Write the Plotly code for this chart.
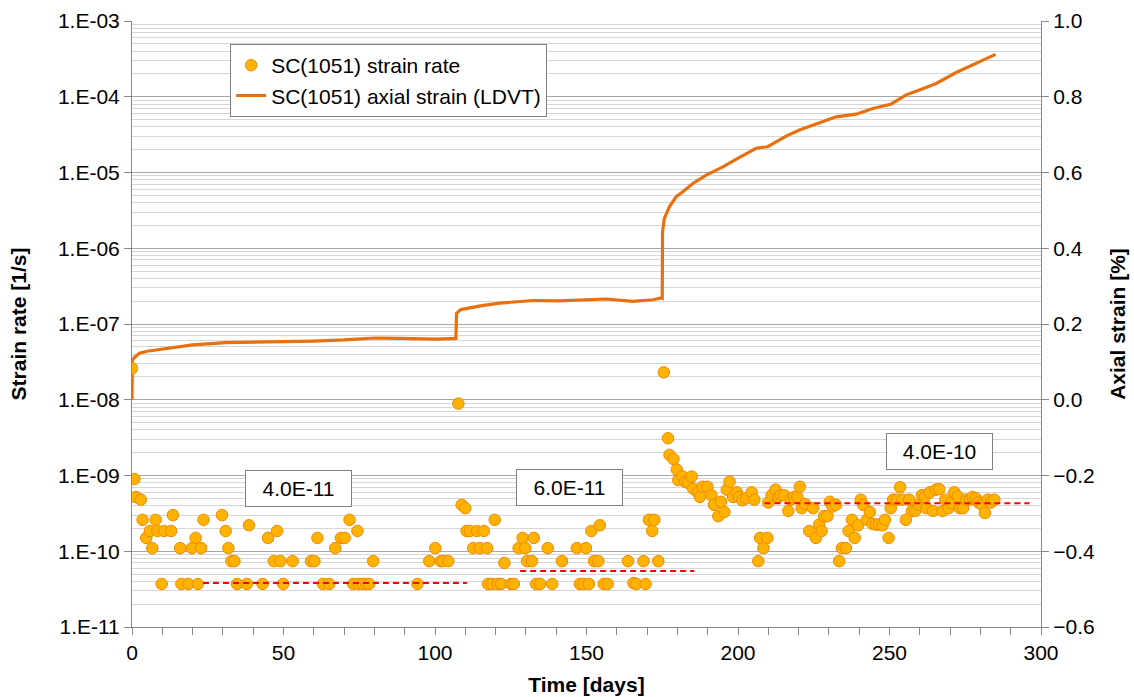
import math
import plotly.graph_objects as go

# ---------------- data ----------------
rate_days = [
    0.0, 0.8, 1.3, 2.9, 3.5, 4.7, 5.9, 6.7, 7.8, 8.4, 9.8, 10.6, 12.9, 13.5, 15.9, 16.3,
    18.6, 19.8, 21.0, 21.7, 22.8, 23.6, 29.7, 30.9, 31.8, 32.8, 33.8, 34.7, 37.9, 38.6,
    43.1, 44.9, 46.8, 47.9, 49.0, 49.9, 53.0, 59.1, 60.2, 61.2, 63.0, 65.1, 67.1, 69.0,
    70.2, 71.8, 73.0, 74.4, 74.8, 76.1, 77.3, 78.3, 79.6,
    94.2, 98.1, 100.1, 101.9, 102.7, 104.4, 107.7, 108.8, 110.0, 110.4, 111.5, 112.6,
    113.9, 114.8, 116.1, 117.2, 117.5, 118.8, 119.7, 120.7, 121.8, 122.9, 125.1, 126.0,
    127.6, 128.9, 129.8, 130.4, 132.0, 132.6, 133.4, 134.7, 137.2, 138.7, 141.9, 146.8,
    147.8, 148.9, 149.8, 150.8, 151.6, 152.5, 153.9, 154.4, 155.7, 157.0, 163.7, 165.5,
    166.5, 168.8, 169.5, 170.6, 171.7, 172.4, 173.7, 175.5, 176.9, 177.4, 178.7, 179.8,
    180.3, 181.7, 182.5, 183.4, 184.7, 185.2, 186.7, 187.4, 188.3, 189.9, 191.2, 192.1,
    193.5, 194.4, 195.5, 196.3, 197.2, 198.4, 199.6, 200.3, 201.4, 202.8, 204.5, 205.4,
    206.7, 207.3, 208.4, 209.7, 210.0, 211.1, 212.4, 213.3, 214.1, 215.2, 216.6, 217.4,
    218.5, 219.6, 220.4, 221.0, 222.1, 223.5, 224.8, 225.7, 226.8, 227.6, 228.4, 229.5,
    230.3, 231.2, 232.3, 233.4, 234.3, 235.6, 236.5, 237.6, 238.5, 239.6, 240.5, 241.3,
    242.5, 243.5, 244.4, 245.5, 246.6, 247.7, 248.5, 249.7, 250.4, 251.2, 252.4, 253.5,
    254.3, 255.4, 256.5, 257.4, 258.5, 259.6, 260.7, 261.7, 262.2, 263.3, 264.4, 265.3,
    266.4, 267.5, 268.4, 269.5, 270.3, 271.4, 272.5, 273.2, 274.3, 275.4, 276.5, 277.4,
    278.5, 279.4, 280.5, 281.5, 282.4, 283.5, 284.6,
]
rate_values = [
    2.6e-8, 9.0e-10, 5.2e-10, 4.8e-10, 2.6e-10, 1.5e-10, 1.85e-10, 1.1e-10, 2.6e-10, 1.85e-10,
    3.7e-11, 1.85e-10, 1.85e-10, 3.0e-10, 1.1e-10, 3.7e-11, 3.7e-11, 1.1e-10, 1.5e-10, 3.7e-11,
    1.1e-10, 2.6e-10, 3.0e-10, 1.85e-10, 1.1e-10, 7.4e-11, 7.4e-11, 3.7e-11, 3.7e-11, 2.2e-10,
    3.7e-11, 1.5e-10, 7.4e-11, 1.85e-10, 7.4e-11, 3.7e-11, 7.4e-11, 7.4e-11, 7.4e-11, 1.5e-10,
    3.7e-11, 3.7e-11, 1.1e-10, 1.5e-10, 1.5e-10, 2.6e-10, 3.7e-11, 1.85e-10, 3.7e-11, 3.7e-11,
    3.7e-11, 3.7e-11, 7.4e-11,
    3.7e-11, 7.4e-11, 1.1e-10, 7.4e-11, 7.4e-11, 7.4e-11, 8.9e-9, 4.1e-10, 3.7e-10, 1.85e-10,
    1.85e-10, 1.1e-10, 1.85e-10, 1.1e-10, 1.85e-10, 1.1e-10, 3.7e-11, 3.7e-11, 2.6e-10, 3.7e-11,
    3.7e-11, 7.0e-11, 3.7e-11, 3.7e-11, 1.1e-10, 1.5e-10, 1.1e-10, 7.4e-11, 7.4e-11, 1.5e-10,
    3.7e-11, 3.7e-11, 1.1e-10, 3.7e-11, 7.4e-11, 1.1e-10, 3.7e-11, 3.7e-11, 1.1e-10, 3.7e-11,
    1.85e-10, 7.4e-11, 7.4e-11, 2.2e-10, 3.7e-11, 3.7e-11, 7.4e-11, 3.8e-11, 3.7e-11, 7.4e-11,
    3.7e-11, 2.6e-10, 1.85e-10, 2.6e-10, 7.4e-11, 2.3e-8, 3.1e-9, 1.87e-9, 1.65e-9, 1.2e-9,
    8.7e-10, 9.7e-10, 8.3e-10, 8.0e-10, 9.7e-10, 6.7e-10, 6.0e-10, 5.2e-10, 7.1e-10, 7.1e-10,
    5.5e-10, 4.1e-10, 2.9e-10, 4.5e-10, 3.3e-10, 6.5e-10, 8.3e-10, 5.2e-10, 6.0e-10, 5.2e-10,
    4.7e-10, 5.0e-10, 6.0e-10, 4.8e-10,
    7.4e-11, 1.5e-10, 1.1e-10, 1.5e-10, 4.4e-10, 5.5e-10, 6.5e-10, 5.2e-10, 5.5e-10, 5.5e-10,
    3.4e-10, 4.8e-10, 5.2e-10, 5.2e-10, 7.1e-10, 3.7e-10, 4.2e-10, 1.85e-10, 3.7e-10, 1.5e-10,
    2.25e-10, 1.85e-10, 2.9e-10, 2.9e-10, 4.5e-10, 3.9e-10, 4.1e-10, 7.4e-11, 1.1e-10, 1.1e-10,
    1.85e-10, 2.6e-10, 1.5e-10, 2.2e-10, 4.8e-10, 4.1e-10, 2.6e-10, 3.3e-10, 2.3e-10, 2.25e-10,
    2.25e-10, 2.2e-10, 2.6e-10, 1.5e-10, 3.7e-10, 4.8e-10, 4.8e-10, 7.0e-10, 4.8e-10, 2.6e-10,
    4.8e-10, 3.4e-10, 3.4e-10, 4.1e-10, 5.5e-10, 5.2e-10, 3.7e-10, 6.0e-10, 3.4e-10, 6.5e-10,
    6.6e-10, 3.4e-10, 4.8e-10, 3.7e-10, 4.3e-10, 6.0e-10, 5.3e-10, 3.7e-10, 3.7e-10, 4.8e-10,
    4.8e-10, 5.2e-10, 5.0e-10, 4.4e-10, 4.1e-10, 3.2e-10, 4.8e-10, 4.4e-10, 4.8e-10,
]

strain_days = [
    0.0, 0.1, 1.0, 2.5, 5.0, 9.1, 15.0, 20.0, 31.0, 41.0, 50.0, 60.0, 70.0, 80.0, 88.3,
    100.4, 106.9, 107.1, 108.5, 110.3, 115.0, 121.3, 132.3, 141.0, 148.0, 156.5, 165.3,
    172.0, 174.6, 175.0, 175.1, 175.7, 177.4, 179.6, 181.8, 185.1, 189.5, 195.0, 200.5,
    206.0, 209.8, 215.9, 220.3, 226.9, 232.4, 239.0, 244.5, 250.6, 255.5, 259.9, 265.4,
    272.0, 278.6, 285.0,
]
strain_values = [
    0.0, 0.105, 0.113, 0.123, 0.128, 0.133, 0.140, 0.145, 0.151, 0.152, 0.154, 0.155, 0.158,
    0.163, 0.162, 0.160, 0.162, 0.228, 0.238, 0.241, 0.248, 0.255, 0.262, 0.261, 0.264,
    0.266, 0.260, 0.264, 0.269, 0.268, 0.444, 0.479, 0.510, 0.536, 0.549, 0.571, 0.593,
    0.615, 0.640, 0.664, 0.668, 0.696, 0.712, 0.730, 0.747, 0.754, 0.769, 0.781, 0.805,
    0.818, 0.835, 0.864, 0.888, 0.912,
]

fit_labels = ["4.0E-11", "6.0E-11", "4.0E-10"]
fit_values = [3.8e-11, 5.5e-11, 4.3e-10]
fit_start = [23.4, 128.1, 208.7]
fit_end = [110.5, 185.6, 296.2]

rate_tick_exponents = [-11, -10, -9, -8, -7, -6, -5, -4, -3]
rate_tick_labels = ["1.E-11", "1.E-10", "1.E-09", "1.E-08", "1.E-07",
                    "1.E-06", "1.E-05", "1.E-04", "1.E-03"]

# ---------------- figure ----------------
FONT = "Liberation Sans, Arial, sans-serif"
FS = 21
AXIS_GRAY = "#868686"

fig = go.Figure()

fig.add_trace(go.Scatter(
    x=strain_days, y=strain_values, yaxis="y", mode="lines",
    name="SC(1051) axial strain (LDVT)",
    line=dict(color="#E8700E", width=3.2),
    legendrank=2,
))

fig.add_trace(go.Scatter(
    x=rate_days, y=rate_values, yaxis="y2", mode="markers",
    name="SC(1051) strain rate",
    marker=dict(size=11.5, color="#FFB300", line=dict(color="#EE8A00", width=1)),
    legendrank=1,
))

for v, s, e in zip(fit_values, fit_start, fit_end):
    fig.add_trace(go.Scatter(
        x=[s, e], y=[v, v], yaxis="y2", mode="lines", showlegend=False,
        line=dict(color="#FF0000", width=2, dash="6px,4px"),
    ))

label_pos = [(55.0, 6.8e-10), (144.5, 6.9e-10), (266.5, 2.1e-9)]
annotations = []
for text, (lx, ly) in zip(fit_labels, label_pos):
    annotations.append(dict(
        x=lx, y=math.log10(ly), xref="x", yref="y2", text=text, showarrow=False,
        font=dict(family=FONT, size=FS, color="#000000"),
        bgcolor="#FFFFFF", bordercolor="#808080", borderwidth=1, borderpad=0,
        width=105, height=35,
    ))

minor_vals = [d * 10.0 ** e for e in rate_tick_exponents[:-1] for d in range(2, 10)]

fig.update_layout(
    width=1134, height=697,
    margin=dict(l=132, r=93, t=21, b=70),
    paper_bgcolor="#FFFFFF", plot_bgcolor="#FFFFFF",
    font=dict(family=FONT, size=FS, color="#000000"),
    showlegend=True,
    legend=dict(
        x=0.108, y=0.962, xanchor="left", yanchor="top",
        bgcolor="#FFFFFF", bordercolor="#808080", borderwidth=1,
        font=dict(family=FONT, size=FS, color="#000000"),
    ),
    xaxis=dict(
        range=[0, 300], dtick=50, tick0=0, showgrid=False, zeroline=False,
        automargin=False,
        showline=True, linecolor=AXIS_GRAY, linewidth=1,
        ticks="outside", ticklen=7, tickcolor=AXIS_GRAY,
        minor=dict(dtick=10, ticks="outside", ticklen=7, tickcolor=AXIS_GRAY),
        title=dict(text="<b>Time [days]</b>", standoff=14,
                   font=dict(family=FONT, size=FS)),
    ),
    yaxis=dict(
        side="right", range=[-0.6, 1.0], dtick=0.2, tick0=0, tickformat=".1f",
        showgrid=False, zeroline=False, automargin=False,
        showline=True, linecolor=AXIS_GRAY, linewidth=1,
        ticks="outside", ticklen=7, tickcolor=AXIS_GRAY,
        title=dict(text="<b>Axial strain [%]</b>", standoff=16,
                   font=dict(family=FONT, size=FS)),
    ),
    yaxis2=dict(
        overlaying="y", side="left", type="log", range=[-11, -3],
        automargin=False,
        tickmode="array",
        tickvals=[10.0 ** e for e in rate_tick_exponents],
        ticktext=rate_tick_labels,
        showgrid=True, gridcolor="#A6A6A6", gridwidth=1, zeroline=False,
        showline=True, linecolor=AXIS_GRAY, linewidth=1,
        ticks="outside", ticklen=7, tickcolor=AXIS_GRAY,
        minor=dict(tickmode="array", tickvals=minor_vals, showgrid=True,
                   gridcolor="#D6D6D6", gridwidth=1, ticks=""),
        title=dict(text="<b>Strain rate [1/s]</b>", standoff=25,
                   font=dict(family=FONT, size=FS)),
    ),
    annotations=annotations,
)

fig.write_html("out.html")
